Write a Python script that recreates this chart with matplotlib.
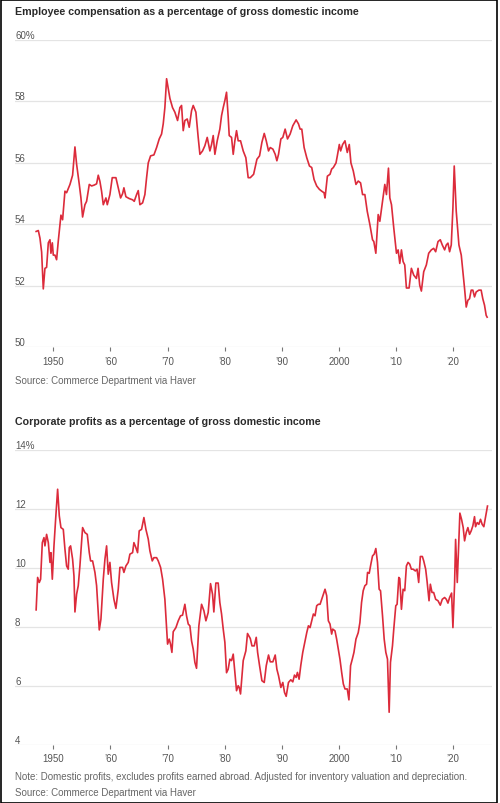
import matplotlib
matplotlib.use("Agg")
import matplotlib.pyplot as plt
from matplotlib import font_manager
from matplotlib.transforms import blended_transform_factory, offset_copy
from matplotlib.patches import Rectangle

# ---------------- data ----------------
comp_years = [
    1947.0, 1947.38, 1947.67, 1947.96, 1948.25, 1948.54, 1948.83, 1949.13, 1949.42, 1949.59,
    1949.83, 1950.0, 1950.29, 1950.58, 1950.87, 1951.34, 1951.63, 1952.04, 1952.33, 1952.92,
    1953.38, 1953.79, 1954.08, 1954.55, 1954.84, 1955.13, 1955.54, 1955.83, 1956.30, 1956.71,
    1957.17, 1957.58, 1957.87, 1958.16, 1958.45, 1958.75, 1959.21, 1959.45, 1959.91, 1960.32,
    1960.96, 1961.37, 1961.78, 1962.13, 1962.36, 1962.71, 1963.29, 1963.88, 1964.17, 1964.58,
    1964.87, 1965.16, 1965.63, 1966.03, 1966.33, 1966.62, 1967.03, 1967.61, 1968.08, 1968.54,
    1968.95, 1969.24, 1969.53, 1969.83, 1970.41, 1970.87, 1971.28, 1971.75, 1972.16, 1972.45,
    1972.74, 1973.03, 1973.44, 1973.79, 1974.20, 1974.49, 1974.96, 1975.36, 1975.66, 1976.12,
    1976.53, 1976.94, 1977.41, 1977.70, 1977.99, 1978.28, 1978.69, 1979.15, 1979.45, 1979.74,
    1980.03, 1980.32, 1980.61, 1980.79, 1981.20, 1981.49, 1981.78, 1982.07, 1982.36, 1982.77,
    1983.24, 1983.70, 1984.11, 1984.48, 1985.06, 1985.64, 1986.10, 1986.51, 1986.92, 1987.27,
    1987.67, 1987.97, 1988.43, 1988.84, 1989.13, 1989.42, 1989.83, 1990.17, 1990.58, 1990.99,
    1991.45, 1991.92, 1992.50, 1992.91, 1993.20, 1993.49, 1993.90, 1994.36, 1994.83, 1995.23,
    1995.64, 1996.10, 1996.57, 1996.98, 1997.38, 1997.56, 1997.97, 1998.43, 1998.72, 1999.01,
    1999.48, 1999.71, 2000.06, 2000.29, 2000.64, 2001.05, 2001.45, 2001.80, 2002.09, 2002.50,
    2002.97, 2003.37, 2003.78, 2004.13, 2004.53, 2004.94, 2005.41, 2005.87, 2006.10, 2006.45,
    2006.86, 2007.15, 2007.62, 2008.02, 2008.31, 2008.66, 2008.90, 2009.19, 2009.59, 2010.06,
    2010.35, 2010.64, 2010.93, 2011.22, 2011.51, 2011.80, 2012.27, 2012.67, 2013.08, 2013.55,
    2013.84, 2014.13, 2014.42, 2014.83, 2015.29, 2015.70, 2016.16, 2016.57, 2016.92, 2017.33,
    2017.73, 2018.08, 2018.49, 2018.78, 2019.07, 2019.36, 2019.65, 2019.94, 2020.17, 2020.52,
    2020.99, 2021.40, 2021.69, 2021.98, 2022.27, 2022.56, 2022.85, 2023.14, 2023.43, 2023.72,
    2024.01, 2024.48, 2024.88, 2025.17, 2025.47, 2025.76, 2025.93,
]
comp_values = [
    53.77, 53.80, 53.55, 53.10, 51.90, 52.57, 52.60, 53.40, 53.50, 53.06,
    53.40, 53.00, 53.00, 52.85, 53.45, 54.30, 54.15, 55.08, 55.03, 55.30,
    55.60, 56.52, 55.96, 55.30, 54.86, 54.24, 54.64, 54.75, 55.30, 55.25,
    55.28, 55.32, 55.60, 55.40, 55.08, 54.64, 54.86, 54.64, 54.97, 55.52,
    55.52, 55.19, 54.86, 55.00, 55.19, 54.90, 54.84, 54.80, 54.75, 54.97,
    55.10, 54.64, 54.70, 54.97, 55.52, 56.00, 56.23, 56.26, 56.50, 56.78,
    56.94, 57.27, 57.80, 58.74, 58.10, 57.80, 57.65, 57.38, 57.80, 57.87,
    57.05, 57.38, 57.43, 57.16, 57.70, 57.87, 57.65, 56.83, 56.28, 56.39,
    56.56, 56.83, 56.39, 56.60, 56.89, 56.28, 56.72, 57.10, 57.54, 57.80,
    58.03, 58.30, 57.50, 56.89, 56.83, 56.28, 56.72, 57.05, 56.72, 56.72,
    56.39, 56.17, 55.52, 55.52, 55.63, 56.12, 56.23, 56.67, 56.96, 56.72,
    56.39, 56.50, 56.45, 56.28, 56.07, 56.28, 56.78, 56.83, 57.10, 56.78,
    56.94, 57.21, 57.40, 57.27, 57.10, 57.10, 56.50, 56.17, 55.90, 55.85,
    55.46, 55.25, 55.14, 55.08, 55.03, 54.86, 55.57, 55.63, 55.80, 55.85,
    56.00, 56.23, 56.60, 56.39, 56.60, 56.72, 56.34, 56.60, 56.00, 55.74,
    55.30, 55.41, 55.35, 54.97, 54.97, 54.43, 53.99, 53.50, 53.44, 53.06,
    54.32, 54.10, 54.75, 55.30, 54.97, 55.83, 54.86, 54.64, 53.88, 53.06,
    53.17, 52.73, 53.17, 52.79, 52.68, 51.93, 51.93, 52.57, 52.35, 52.24,
    52.57, 52.02, 51.83, 52.46, 52.68, 53.06, 53.17, 53.22, 53.11, 53.44,
    53.50, 53.33, 53.17, 53.33, 53.39, 53.11, 53.33, 54.54, 55.90, 54.43,
    53.33, 53.00, 52.46, 51.91, 51.31, 51.53, 51.58, 51.86, 51.86, 51.64,
    51.80, 51.86, 51.86, 51.58, 51.37, 51.04, 50.98,
]

profit_years = [
    1947.0, 1947.26, 1947.55, 1947.78, 1948.08, 1948.37, 1948.54, 1948.83, 1949.13, 1949.42,
    1949.59, 1949.83, 1950.12, 1950.41, 1950.76, 1951.05, 1951.34, 1951.75, 1952.04, 1952.33,
    1952.62, 1952.80, 1953.03, 1953.38, 1953.62, 1953.79, 1954.08, 1954.37, 1954.66, 1955.13,
    1955.54, 1955.95, 1956.30, 1956.53, 1956.88, 1957.29, 1957.58, 1958.05, 1958.34, 1958.75,
    1959.04, 1959.33, 1959.62, 1959.91, 1960.20, 1960.61, 1960.96, 1961.37, 1961.66, 1962.13,
    1962.36, 1962.71, 1963.12, 1963.41, 1963.88, 1964.11, 1964.46, 1964.75, 1965.04, 1965.45,
    1965.86, 1966.21, 1966.62, 1966.91, 1967.32, 1967.61, 1968.08, 1968.37, 1968.78, 1969.13,
    1969.53, 1970.00, 1970.29, 1970.52, 1970.76, 1970.99, 1971.46, 1971.87, 1972.27, 1972.62,
    1973.03, 1973.32, 1973.62, 1973.91, 1974.20, 1974.49, 1974.78, 1975.07, 1975.48, 1975.95,
    1976.36, 1976.71, 1977.11, 1977.52, 1977.87, 1978.10, 1978.45, 1978.86, 1979.15, 1979.45,
    1979.74, 1980.03, 1980.32, 1980.61, 1980.90, 1981.20, 1981.49, 1981.78, 1982.07, 1982.36,
    1982.54, 1982.77, 1983.24, 1983.70, 1983.99, 1984.48, 1984.77, 1985.17, 1985.52, 1985.76,
    1986.10, 1986.51, 1986.92, 1987.27, 1987.67, 1987.97, 1988.43, 1988.84, 1989.13, 1989.42,
    1989.83, 1990.17, 1990.47, 1990.76, 1991.16, 1991.57, 1991.92, 1992.21, 1992.50, 1992.73,
    1993.02, 1993.31, 1993.66, 1994.07, 1994.36, 1994.65, 1994.94, 1995.23, 1995.52, 1995.81,
    1996.10, 1996.40, 1996.69, 1996.98, 1997.27, 1997.56, 1997.85, 1998.14, 1998.43, 1998.72,
    1998.90, 1999.30, 1999.59, 1999.88, 2000.17, 2000.47, 2000.76, 2001.05, 2001.45, 2001.74,
    2002.03, 2002.33, 2002.62, 2002.97, 2003.37, 2003.66, 2003.95, 2004.24, 2004.53, 2004.83,
    2005.00, 2005.29, 2005.58, 2005.87, 2006.16, 2006.45, 2006.74, 2007.03, 2007.27, 2007.62,
    2007.91, 2008.20, 2008.49, 2008.78, 2009.01, 2009.36, 2009.59, 2009.94, 2010.17, 2010.47,
    2010.64, 2010.93, 2011.22, 2011.51, 2011.80, 2012.09, 2012.38, 2012.67, 2012.97, 2013.37,
    2013.66, 2013.95, 2014.24, 2014.59, 2014.83, 2015.17, 2015.41, 2015.76, 2015.99, 2016.28,
    2016.57, 2016.92, 2017.33, 2017.73, 2018.08, 2018.49, 2018.78, 2019.07, 2019.36, 2019.71,
    2019.94, 2020.23, 2020.41, 2020.70, 2020.93, 2021.16, 2021.45, 2021.74, 2021.98, 2022.27,
    2022.56, 2022.85, 2023.14, 2023.43, 2023.72, 2023.90, 2024.19, 2024.48, 2024.77, 2025.06,
    2025.35, 2025.64, 2025.99,
]
profit_values = [
    8.58, 9.68, 9.51, 9.62, 10.86, 11.03, 10.75, 11.14, 10.86, 10.19,
    10.52, 9.62, 10.75, 11.65, 12.67, 11.77, 11.37, 11.31, 10.64, 10.07,
    9.96, 10.69, 10.75, 10.30, 9.73, 8.51, 9.11, 9.40, 10.07, 11.37,
    11.20, 11.14, 10.52, 10.24, 10.24, 9.85, 9.40, 7.90, 8.27, 9.62,
    10.30, 10.75, 9.79, 10.19, 9.51, 8.94, 8.63, 9.28, 10.02, 10.02,
    9.85, 10.07, 10.19, 10.47, 10.52, 10.86, 10.69, 10.52, 11.26, 11.31,
    11.71, 11.31, 10.98, 10.58, 10.24, 10.35, 10.35, 10.24, 10.02, 9.62,
    8.94, 7.42, 7.59, 7.42, 7.14, 7.84, 7.98, 8.21, 8.38, 8.40,
    8.77, 8.38, 8.10, 8.04, 7.53, 7.25, 6.80, 6.60, 8.04, 8.77,
    8.55, 8.21, 8.49, 9.47, 9.11, 8.51, 9.49, 9.49, 8.83, 8.44,
    7.93, 7.48, 6.45, 6.57, 6.91, 6.86, 7.08, 6.46, 5.84, 6.01,
    5.95, 5.73, 6.86, 7.19, 7.78, 7.61, 7.36, 7.36, 7.65, 7.14,
    6.69, 6.18, 6.12, 6.69, 7.05, 6.82, 6.82, 7.05, 6.57, 6.35,
    5.95, 6.12, 5.78, 5.65, 6.12, 6.21, 6.14, 6.37, 6.29, 6.46,
    6.23, 6.69, 7.14, 7.53, 7.81, 8.04, 7.98, 8.21, 8.44, 8.38,
    8.72, 8.77, 8.77, 8.94, 9.11, 9.28, 9.06, 8.21, 8.10, 7.76,
    7.93, 7.87, 7.59, 7.25, 6.91, 6.46, 6.07, 5.90, 5.90, 5.53,
    6.69, 6.91, 7.14, 7.59, 7.81, 8.15, 8.83, 9.23, 9.40, 9.45,
    9.85, 9.82, 10.13, 10.41, 10.47, 10.66, 10.19, 9.28, 9.23, 8.38,
    7.59, 7.14, 6.91, 5.11, 6.80, 7.36, 7.93, 8.72, 8.77, 9.68,
    9.64, 8.60, 9.28, 9.23, 10.07, 10.19, 10.13, 9.96, 9.96, 9.90,
    9.96, 9.51, 10.39, 10.39, 10.24, 9.96, 9.56, 8.89, 9.45, 9.17,
    9.17, 8.94, 8.89, 8.74, 8.94, 9.00, 8.94, 8.81, 9.00, 9.15,
    7.98, 9.45, 10.97, 9.51, 10.64, 11.86, 11.65, 11.37, 10.92, 11.20,
    11.37, 11.14, 11.26, 11.43, 11.74, 11.40, 11.54, 11.48, 11.65, 11.48,
    11.40, 11.71, 12.10,
]

xtick_years = [1950, 1960, 1970, 1980, 1990, 2000, 2010, 2020]
xtick_labels = ["1950", "\u201960", "\u201970", "\u201980", "\u201990", "2000", "\u201910", "\u201920"]
comp_ticks = [50, 52, 54, 56, 58, 60]
comp_tick_labels = ["50", "52", "54", "56", "58", "60%"]
profit_ticks = [4, 6, 8, 10, 12, 14]
profit_tick_labels = ["4", "6", "8", "10", "12", "14%"]

title_top = "Employee compensation as a percentage of gross domestic income"
title_bottom = "Corporate profits as a percentage of gross domestic income"
source_text = "Source: Commerce Department via Haver"
note_text = "Note: Domestic profits, excludes profits earned abroad. Adjusted for inventory valuation and depreciation."

# ---------------- style ----------------
plt.rcParams["font.family"] = ["Liberation Sans", "DejaVu Sans"]

RED = "#dc2b3b"
GRID = "#e4e4e4"
TXT = "#2a2a2a"
GRAYTXT = "#666666"
TICKTXT = "#555555"

W, H = 500, 804
fig = plt.figure(figsize=(W / 100, H / 100), dpi=100)


def fy(py):
    return 1 - py / H


def make_axes(top_px, bottom_px, ylim, ticks, labels, years, values):
    left, right = 15, 492
    ax = fig.add_axes([left / W, fy(bottom_px), (right - left) / W, (bottom_px - top_px) / H])
    ax.plot(years, values, color=RED, lw=1.2, solid_joinstyle="round")
    ax.set_xlim(1943.3, 2026.78)
    ax.set_ylim(*ylim)
    for s in ax.spines.values():
        s.set_visible(False)
    ax.set_yticks(ticks)
    ax.yaxis.grid(True, color=GRID, lw=0.9)
    ax.set_axisbelow(True)
    ax.tick_params(axis="y", left=False, labelleft=False)
    ax.set_xticks(xtick_years)
    ax.set_xticklabels(xtick_labels)
    ax.tick_params(axis="x", direction="out", length=3, width=0.8, color="#777777",
                   labelsize=7, labelcolor=TICKTXT, pad=3)
    trans = offset_copy(blended_transform_factory(ax.transAxes, ax.transData),
                        fig=fig, x=0, y=1.6, units="points")
    for v, lab in zip(ticks, labels):
        ax.text(0, v, lab, transform=trans, ha="left", va="baseline",
                fontsize=7, color=TICKTXT)
    return ax


make_axes(41, 348.3, (50, 60), comp_ticks, comp_tick_labels, comp_years, comp_values)
make_axes(451, 746, (4, 14), profit_ticks, profit_tick_labels, profit_years, profit_values)

fig.text(15 / W, fy(12), title_top, ha="left", va="center", fontsize=7.7,
         fontweight="bold", color=TXT)
fig.text(15 / W, fy(381), source_text, ha="left", va="center", fontsize=7, color=GRAYTXT)
fig.text(15 / W, fy(422), title_bottom, ha="left", va="center", fontsize=7.7,
         fontweight="bold", color=TXT)
fig.text(15 / W, fy(777), note_text, ha="left", va="center", fontsize=7, color=GRAYTXT)
fig.text(15 / W, fy(793), source_text, ha="left", va="center", fontsize=7, color=GRAYTXT)

fig.patches.append(Rectangle((0.5 / W, 0.5 / H), 496.5 / W, 802.5 / H, transform=fig.transFigure,
                             fill=False, edgecolor="black", lw=1.2))

fig.savefig("out.png", dpi=100)
